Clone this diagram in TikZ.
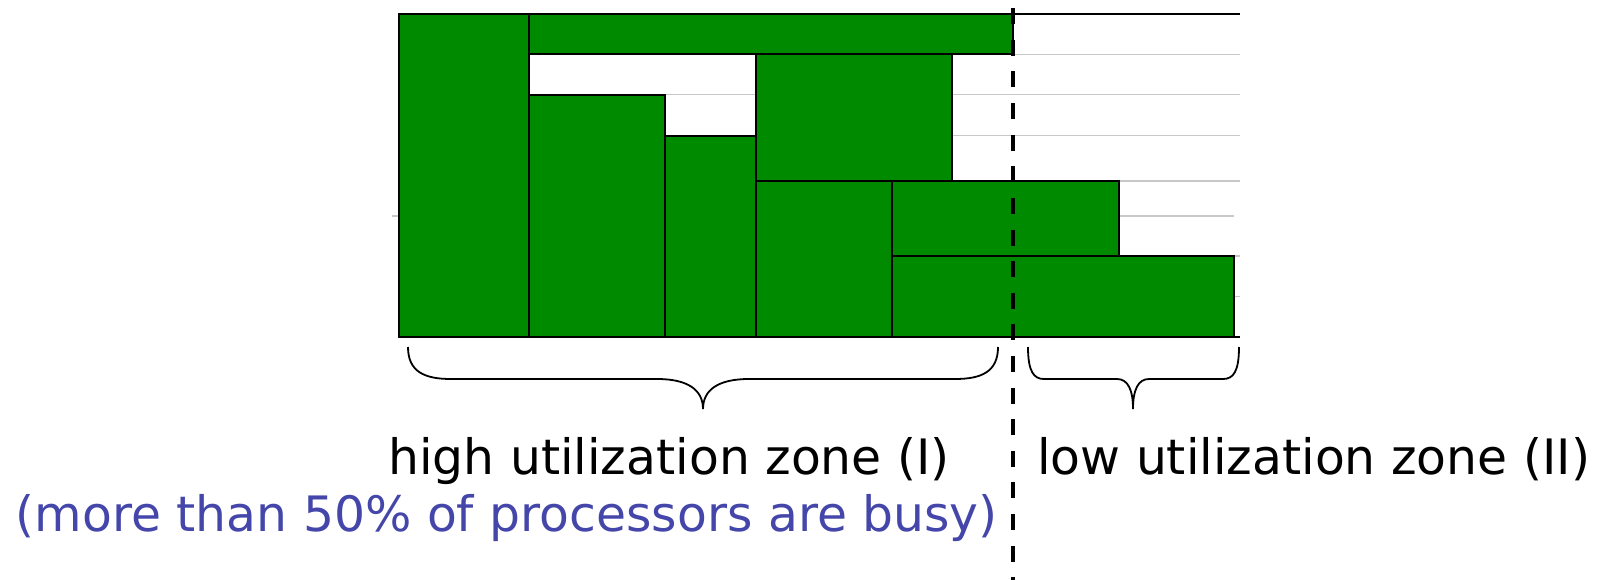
\documentclass[tikz,border=0pt]{standalone}
\usepackage{fontspec}
\setmainfont{DejaVu Sans}
\definecolor{jobgreen}{RGB}{0,138,0}
\definecolor{notecol}{RGB}{68,70,170}
\definecolor{gridgray}{RGB}{200,200,200}
\begin{document}
\begin{tikzpicture}[x=1pt,y=-1pt,
  job/.style={draw=black,line width=2pt,fill=jobgreen},
  gridline/.style={draw=gridgray,line width=1.5pt},
  frameline/.style={draw=black,line width=1.5pt},
  split/.style={draw=black,line width=4pt,dash pattern=on 16pt off 15.6pt},
  bracepath/.style={draw=black,line width=1.8pt},
  label/.style={font=\fontsize{48.8pt}{58pt}\selectfont,inner sep=0pt}]
\useasboundingbox (0,0) rectangle (1602,580);

% horizontal grid lines behind the schedule
\foreach \yy in {54.3,94.7,135.3,181,256,296.7}
  \draw[gridline] (399,\yy) -- (1240,\yy);
\draw[gridline] (392,216) -- (1234,216);

% outer frame lines
\draw[frameline] (399,14) -- (1240,14);
\draw[frameline] (399,337) -- (1240,337);

% jobs
\draw[job] (399,14) rectangle (529,337);
\draw[job] (529,14) rectangle (1013,54.3);
\draw[job] (529,94.7) rectangle (665,337);
\draw[job] (665,136) rectangle (756,337);
\draw[job] (756,54.3) rectangle (952,181);
\draw[job] (756,181) rectangle (892,337);
\draw[job] (892,181) rectangle (1119,256.3);
\draw[job] (892,256.3) rectangle (1234,337);

% zone boundary
\coordinate (cutTop) at (1013,8.3);
\coordinate (cutBot) at (1013,580);
\draw[split] (cutTop) -- (cutBot);

% brace under the high utilization zone
\draw[bracepath] (408,347) .. controls (408,372) and (425,379) .. (451,379)
  -- (657,379) .. controls (688,379) and (703,390) .. (703,409)
  .. controls (703,390) and (718,379) .. (749,379)
  -- (955,379) .. controls (981,379) and (998,372) .. (998,347);

% brace under the low utilization zone
\draw[bracepath] (1028,347) .. controls (1028,372) and (1034,379) .. (1044,379)
  -- (1117,379) .. controls (1128,379) and (1133,390) .. (1133,409)
  .. controls (1133,390) and (1138,379) .. (1149,379)
  -- (1223,379) .. controls (1233,379) and (1239,372) .. (1239,347);

% zone labels
\node[label,anchor=base east] (highZone) at (950,474.5) {high utilization zone (I)};
\node[label,anchor=base west] (lowZone) at (1037,474.5) {low utilization zone (II)};
\node[label,anchor=base east,text=notecol] (highNote) at (998,531.5) {(more than 50\% of processors are busy)};
\end{tikzpicture}
\end{document}
